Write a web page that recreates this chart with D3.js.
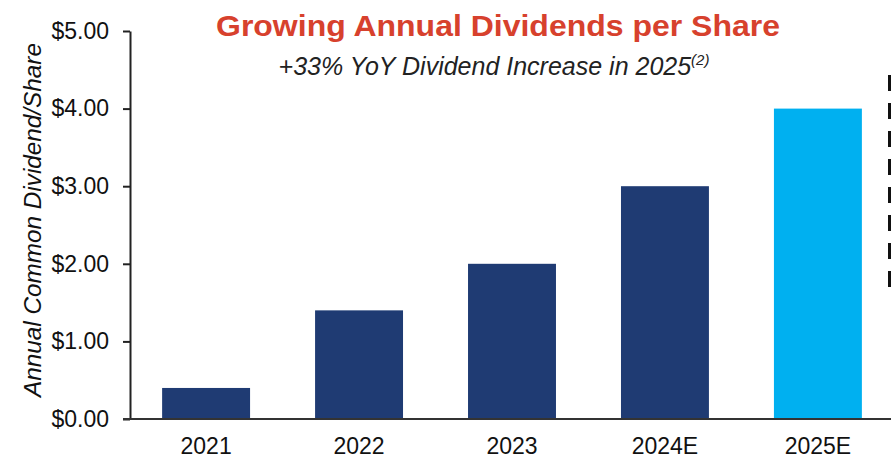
<!DOCTYPE html>
<html>
<head>
<meta charset="utf-8">
<script src="https://cdn.jsdelivr.net/npm/d3@7"></script>
<style>
  html, body { margin: 0; padding: 0; background: #fff; }
  svg { display: block; font-family: Arial, "Liberation Sans", sans-serif; }
</style>
</head>
<body>
<svg id="chart" width="891" height="458"></svg>
<script>
// Annual common dividend per share by year
const years = ["2021", "2022", "2023", "2024E", "2025E"];
const dividends = [0.40, 1.40, 2.00, 3.00, 4.00];
const barColors = ["#1F3B73", "#1F3B73", "#1F3B73", "#1F3B73", "#00B0F0"];
const yTicks = [0, 1, 2, 3, 4, 5];

const titleText = "Growing Annual Dividends per Share";
const subtitleText = "+33% YoY Dividend Increase in 2025";
const subtitleNote = "(2)";
const yAxisTitle = "Annual Common Dividend/Share";

const svg = d3.select("#chart");
const axisX = 130, baseY = 419, topY = 31;

const x = d3.scaleBand()
  .domain(years)
  .range([axisX, axisX + 764])
  .paddingInner(0.425)
  .paddingOuter(0.21);

const y = d3.scaleLinear()
  .domain([0, 5])
  .range([baseY, topY]);

// bars
svg.append("g")
  .selectAll("rect")
  .data(years)
  .join("rect")
  .attr("x", d => x(d))
  .attr("y", (d, i) => y(dividends[i]))
  .attr("width", x.bandwidth())
  .attr("height", (d, i) => y(0) - y(dividends[i]))
  .attr("fill", (d, i) => barColors[i]);

// y axis
const yAxis = d3.axisLeft(y)
  .tickValues(yTicks)
  .tickFormat(d => "$" + d3.format(".2f")(d))
  .tickSizeInner(7)
  .tickSizeOuter(0)
  .tickPadding(14);

const gy = svg.append("g")
  .attr("transform", `translate(${axisX},0)`)
  .call(yAxis);
gy.select(".domain").attr("stroke", "#222").attr("stroke-width", 2);
gy.selectAll(".tick line").attr("stroke", "#222").attr("stroke-width", 2);
gy.selectAll(".tick text")
  .attr("font-size", 23)
  .attr("font-family", "Arial, 'Liberation Sans', sans-serif")
  .attr("fill", "#111");

// x axis baseline
svg.append("line")
  .attr("x1", 123).attr("x2", 891)
  .attr("y1", baseY).attr("y2", baseY)
  .attr("stroke", "#333").attr("stroke-width", 2);

// x labels
const xAxis = d3.axisBottom(x).tickSize(0).tickPadding(19);
const gx = svg.append("g")
  .attr("transform", `translate(0,${baseY})`)
  .call(xAxis);
gx.select(".domain").remove();
gx.selectAll(".tick text")
  .attr("font-size", 23)
  .attr("font-family", "Arial, 'Liberation Sans', sans-serif")
  .attr("fill", "#111");

// y axis title
svg.append("text")
  .attr("transform", "translate(41,220) rotate(-90)")
  .attr("text-anchor", "middle")
  .attr("font-size", 24.3)
  .attr("font-style", "italic")
  .attr("fill", "#111")
  .text(yAxisTitle);

// title
svg.append("text")
  .attr("x", 216).attr("y", 36)
  .attr("font-size", 29.5)
  .attr("font-weight", "bold")
  .attr("fill", "#D7412D")
  .attr("textLength", 564)
  .attr("lengthAdjust", "spacingAndGlyphs")
  .text(titleText);

// subtitle with footnote marker
const sub = svg.append("text")
  .attr("x", 494).attr("y", 75)
  .attr("text-anchor", "middle")
  .attr("font-size", 25)
  .attr("font-style", "italic")
  .attr("fill", "#222");
sub.append("tspan").text(subtitleText);
sub.append("tspan")
  .attr("font-size", 15)
  .attr("dy", -10)
  .text(subtitleNote);

// dashed frame edge at the right
svg.append("line")
  .attr("x1", 889.5).attr("x2", 889.5)
  .attr("y1", 75).attr("y2", 291)
  .attr("stroke", "#111")
  .attr("stroke-width", 3)
  .attr("stroke-dasharray", "16,12");
</script>
</body>
</html>
